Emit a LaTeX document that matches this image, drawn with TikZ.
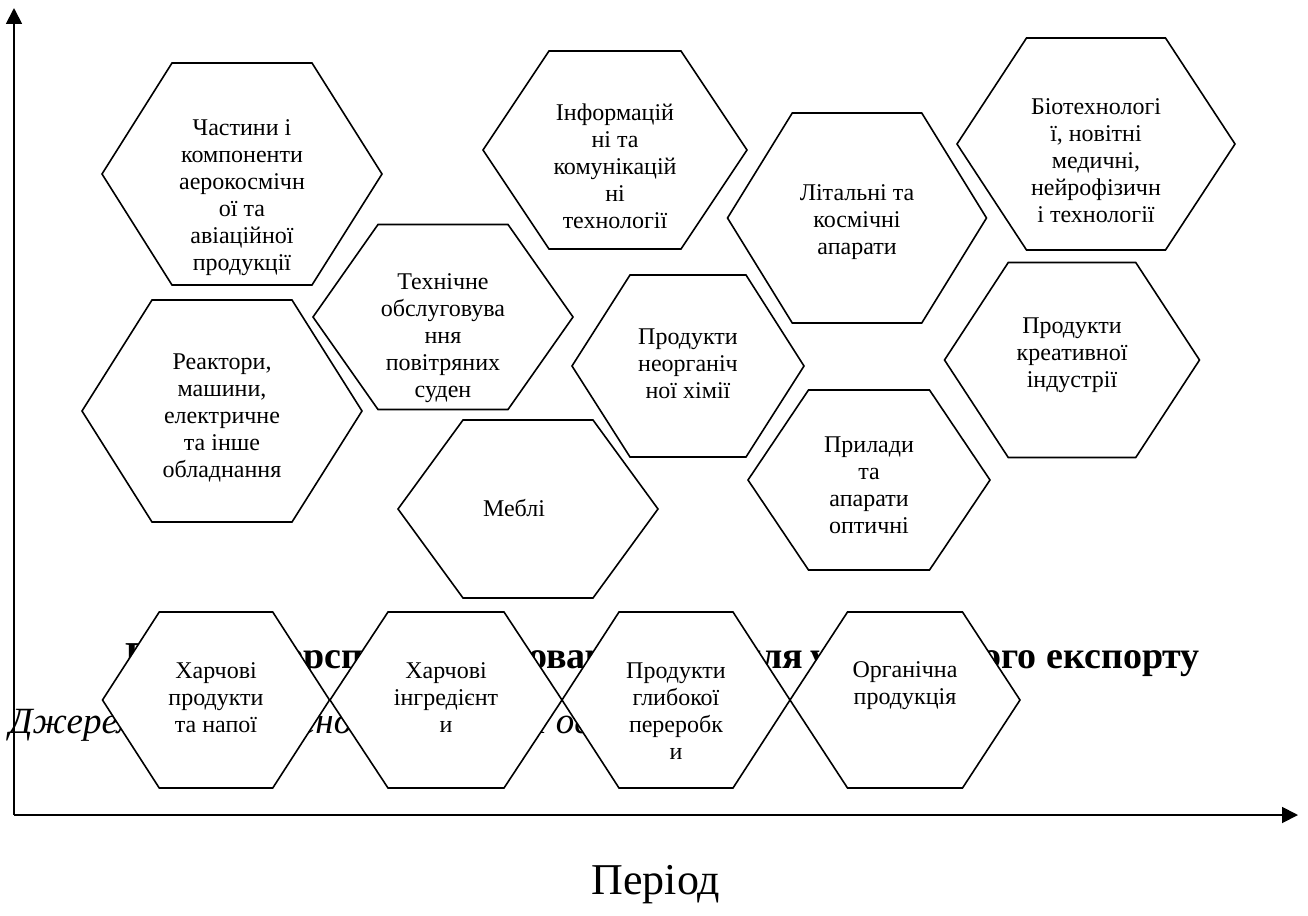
\documentclass[tikz,border=0pt]{standalone}
\usepackage{fontspec}
\setmainfont{Liberation Serif}
\usetikzlibrary{arrows.meta,positioning}

\begin{document}
\begin{tikzpicture}[
        x=1pt, y=-1pt,
        font=\fontsize{24}{27}\selectfont,
        % Styles
        hexline/.style={draw=black, line width=1.6pt, fill=white},
        cell/.style={align=center, inner sep=0pt},
        axis/.style={line width=1.8pt, -{Triangle[length=16pt,width=16pt]}},
        caption/.style={inner sep=0pt, font=\fontsize{38}{44}\selectfont\bfseries},
        source/.style={inner sep=0pt, font=\fontsize{37}{44}\selectfont\itshape},
        pics/hexa/.style args={#1/#2}{code={
            \path[hexline] (-#1/2,0) -- ++(#1/4,-#2/2) -- ++(#1/2,0)
                -- ++(#1/4,#2/2) -- ++(-#1/4,#2/2) -- ++(-#1/2,0) -- cycle;
        }}
    ]
    \path[use as bounding box] (0,0) rectangle (1308,915);

    % Caption under the cells
    \node[caption, anchor=base west] (fig) at (125,668) {Рис. 3.1.};
    \node[caption, anchor=base west] (prospective) at (257,668) {Перспективні};
    \node[caption, anchor=base west] (goods) at (510,668) {товарні};
    \node[caption, base right=6pt of goods] (groups) {групи};
    \node[caption, anchor=base west] (for) at (742,668) {для};
    \node[caption, anchor=base east] (export) at (1200,668) {українського експорту};
    \node[source, anchor=base west] (source) at (9,733) {Джерело: розроблено автором на основі};

    % Axes
    \coordinate (origin) at (14,815);
    \coordinate (ytip) at (14,8);
    \coordinate (xtip) at (1298,815);
    \draw[axis] (origin) -- (ytip);
    \draw[axis] (origin) -- (xtip);
    \node[font=\fontsize{44}{50}\selectfont] (period) at (656,885) {Період};

    % Upper field
    \pic at (242,174) {hexa=280/222};
    \node[cell] (parts) at (242,198) {Частини і\\компоненти\\аерокосмічн\\ої та\\авіаційної\\продукції};
    \pic at (615,150) {hexa=264/198};
    \node[cell] (ict) at (615,166) {Інформацій\\ні та\\комунікацій\\ні\\технології};
    \pic at (1096,144) {hexa=278/212};
    \node[cell] (biotech) at (1096,161) {Біотехнологі\\ї, новітні\\медичні,\\нейрофізичн\\і технології};
    \pic at (857,218) {hexa=259/210};
    \node[cell] (aircraft) at (857,222) {Літальні та\\космічні\\апарати};

    % Middle field
    \pic at (443,317) {hexa=260/185};
    \node[cell] (maintenance) at (443,338) {Технічне\\обслуговува\\ння\\повітряних\\суден};
    \pic at (222,411) {hexa=280/222};
    \node[cell] (reactors) at (222,418) {Реактори,\\машини,\\електричне\\та інше\\обладнання};
    \pic at (688,366) {hexa=232/182};
    \node[cell] (inorganic) at (688,364) {Продукти\\неорганіч\\ної хімії};
    \pic at (1072,360) {hexa=255/195};
    \node[cell] (creative) at (1072,355) {Продукти\\креативної\\індустрії};
    \pic at (869,480) {hexa=242/180};
    \node[cell] (optics) at (869,485) {Прилади\\та\\апарати\\оптичні};
    \pic at (528,509) {hexa=260/178};
    \node[cell] (furniture) at (514,508) {Меблі};

    % Bottom row
    \pic at (216,700) {hexa=227/176};
    \node[cell] (food) at (216,698) {Харчові\\продукти\\та напої};
    \pic at (446,700) {hexa=232/176};
    \node[cell] (ingredients) at (446,698) {Харчові\\інгредієнт\\и};
    \pic at (676,700) {hexa=228/176};
    \node[cell] (processing) at (676,711) {Продукти\\глибокої\\переробк\\и};
    \pic at (905,700) {hexa=230/176};
    \node[cell] (organic) at (905,686) {Органічна\\продукція};
\end{tikzpicture}
\end{document}
